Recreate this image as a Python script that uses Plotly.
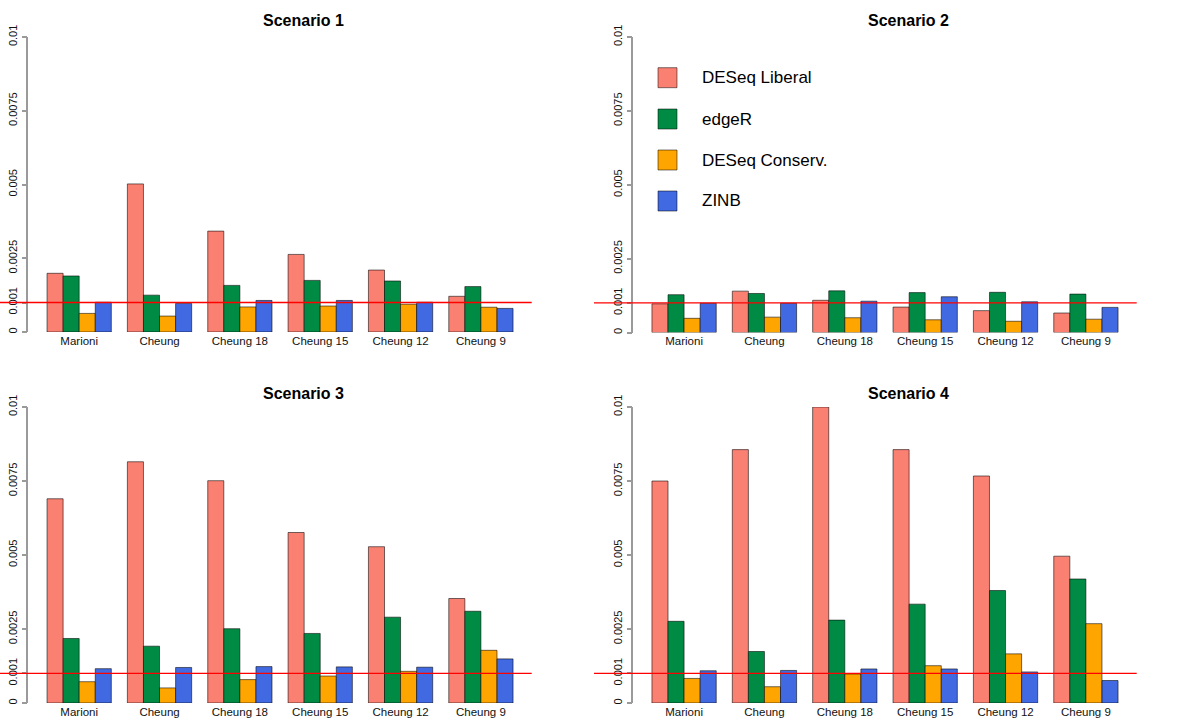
import plotly.graph_objects as go

W, H = 1188, 725

categories = ["Marioni", "Cheung", "Cheung 18", "Cheung 15", "Cheung 12", "Cheung 9"]
methods = ["DESeq Liberal", "edgeR", "DESeq Conserv.", "ZINB"]
colors = ["#FA8072", "#008B45", "#FFA500", "#4169E1"]
scenario_titles = ["Scenario 1", "Scenario 2", "Scenario 3", "Scenario 4"]

# Scenario 1
s1_deseq_lib = [0.00199, 0.00502, 0.00342, 0.00263, 0.00210, 0.00121]
s1_edger = [0.00190, 0.00125, 0.00158, 0.00175, 0.00173, 0.00154]
s1_deseq_cons = [0.00063, 0.00054, 0.00085, 0.00088, 0.00094, 0.00084]
s1_zinb = [0.00101, 0.00097, 0.00107, 0.00107, 0.00101, 0.00080]
# Scenario 2
s2_deseq_lib = [0.00097, 0.00140, 0.00109, 0.00086, 0.00074, 0.00066]
s2_edger = [0.00128, 0.00132, 0.00141, 0.00135, 0.00136, 0.00130]
s2_deseq_cons = [0.00048, 0.00052, 0.00050, 0.00043, 0.00038, 0.00045]
s2_zinb = [0.00099, 0.00099, 0.00106, 0.00121, 0.00104, 0.00085]
# Scenario 3
s3_deseq_lib = [0.00690, 0.00815, 0.00751, 0.00576, 0.00528, 0.00353]
s3_edger = [0.00218, 0.00192, 0.00251, 0.00235, 0.00290, 0.00310]
s3_deseq_cons = [0.00072, 0.00051, 0.00079, 0.00091, 0.00107, 0.00178]
s3_zinb = [0.00116, 0.00120, 0.00123, 0.00122, 0.00121, 0.00149]
# Scenario 4
s4_deseq_lib = [0.00750, 0.00856, 0.01000, 0.00856, 0.00767, 0.00496]
s4_edger = [0.00276, 0.00174, 0.00280, 0.00334, 0.00380, 0.00419]
s4_deseq_cons = [0.00083, 0.00055, 0.00098, 0.00126, 0.00166, 0.00268]
s4_zinb = [0.00109, 0.00110, 0.00115, 0.00115, 0.00105, 0.00076]

threshold = 0.001
ytick_vals = [0, 0.001, 0.0025, 0.005, 0.0075, 0.01]
ytick_text = ["0", "0.001", "0.0025", "0.005", "0.0075", "0.01"]

scenarios = [
    [s1_deseq_lib, s1_edger, s1_deseq_cons, s1_zinb],
    [s2_deseq_lib, s2_edger, s2_deseq_cons, s2_zinb],
    [s3_deseq_lib, s3_edger, s3_deseq_cons, s3_zinb],
    [s4_deseq_lib, s4_edger, s4_deseq_cons, s4_zinb],
]

FONT = "Liberation Sans, Arial, Helvetica, sans-serif"

# panel pixel geometry: (x_left, x_right, y_top(0.01), y_bottom(0))
panels = [
    (28.4, 531.7, 37, 332),
    (633.3, 1136.7, 37, 332.5),
    (28.4, 531.7, 407, 703),
    (633.3, 1136.7, 407, 703),
]
title_pos = [(303, 21), (908, 21), (303, 393), (908, 393)]
redline_x = [(0, 531.7), (594, 1136.7), (0, 531.7), (594, 1136.7)]

fig = go.Figure()
layout = dict(
    width=W, height=H, autosize=False,
    margin=dict(l=0, r=0, t=0, b=0, pad=0, autoexpand=False),
    paper_bgcolor="white", plot_bgcolor="white",
    barmode="group", bargap=0.2, bargroupgap=0,
    showlegend=False,
    font=dict(family=FONT, color="black"),
)
shapes = []
annotations = []

for i, series in enumerate(scenarios):
    xa = "x" if i == 0 else f"x{i+1}"
    ya = "y" if i == 0 else f"y{i+1}"
    for m, vals in enumerate(series):
        fig.add_trace(go.Bar(
            x=categories, y=vals, name=methods[m],
            marker=dict(color=colors[m], line=dict(color="rgba(0,0,0,0.55)", width=1)),
            xaxis=xa, yaxis=ya, cliponaxis=False,
            offsetgroup=str(m), showlegend=False,
        ))
    xl, xr, yt, yb = panels[i]
    xkey = "xaxis" if i == 0 else f"xaxis{i+1}"
    ykey = "yaxis" if i == 0 else f"yaxis{i+1}"
    layout[xkey] = dict(
        domain=[xl / W, xr / W], anchor=ya, type="category",
        range=[-0.632, 5.632], showline=False, showgrid=False, zeroline=False,
        ticks="", tickfont=dict(size=11.5, family=FONT, color="#111"),
        automargin=False, fixedrange=True,
    )
    layout[ykey] = dict(
        domain=[1 - yb / H, 1 - yt / H], anchor=xa, range=[0, 0.01],
        showline=True, linecolor="#9a9a9a", linewidth=1.5,
        showgrid=False, zeroline=False,
        ticks="outside", ticklen=5, tickcolor="#9a9a9a", tickwidth=1.5,
        tickvals=ytick_vals, ticktext=ytick_text, tickangle=-90,
        tickfont=dict(size=11, family=FONT, color="#111"),
        automargin=False, fixedrange=True,
    )
    x0, x1 = redline_x[i]
    shapes.append(dict(type="line", xref="paper", yref=ya,
                       x0=x0 / W, x1=x1 / W, y0=threshold, y1=threshold,
                       line=dict(color="#FF0000", width=1.3), layer="above"))
    tx, ty = title_pos[i]
    annotations.append(dict(text=f"<b>{scenario_titles[i]}</b>", xref="paper", yref="paper",
                            x=tx / W, y=1 - ty / H, xanchor="center", yanchor="middle",
                            showarrow=False, font=dict(size=16, family=FONT, color="black")))

# legend drawn inside Scenario 2 panel
leg_y = [77.7, 119, 160, 201]
for m in range(4):
    cy = leg_y[m]
    shapes.append(dict(type="rect", xref="paper", yref="paper",
                       x0=658 / W, x1=677 / W, y0=1 - (cy + 10) / H, y1=1 - (cy - 10) / H,
                       fillcolor=colors[m], line=dict(color="rgba(0,0,0,0.5)", width=1)))
    annotations.append(dict(text=methods[m], xref="paper", yref="paper",
                            x=700 / W, y=1 - cy / H, xanchor="left", yanchor="middle",
                            showarrow=False, font=dict(size=17, family=FONT, color="black")))

layout["shapes"] = shapes
layout["annotations"] = annotations
fig.update_layout(**layout)
fig.write_html("out.html",
               config={"displayModeBar": False, "staticPlot": False},
               post_script="document.body.style.margin='0';document.body.style.overflow='hidden';")
